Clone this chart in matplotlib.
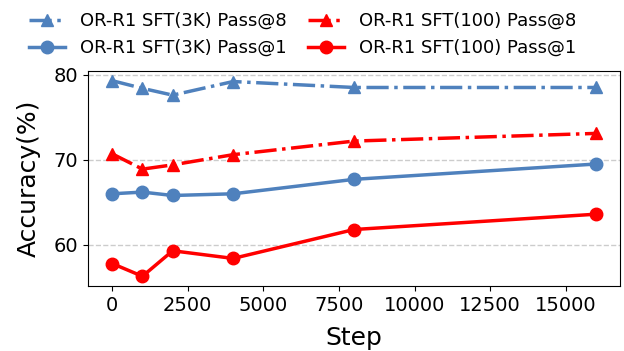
import matplotlib
matplotlib.use("Agg")
import matplotlib.pyplot as plt

# datos
pasos = [0, 1000, 2000, 4000, 8000, 16000]
sft3k_pass8 = [79.3, 78.4, 77.6, 79.2, 78.5, 78.5]
sft3k_pass1 = [66.0, 66.2, 65.8, 66.0, 67.7, 69.5]
sft100_pass8 = [70.7, 68.9, 69.4, 70.6, 72.2, 73.1]
sft100_pass1 = [57.8, 56.3, 59.3, 58.4, 61.8, 63.6]

azul = "#4f81bd"
rojo = "#ff0000"

fig = plt.figure(figsize=(6.24, 3.51), dpi=100)
ax = fig.add_axes([0.141, 0.185, 0.853, 0.613])

estilo = dict(linewidth=2.5, markersize=9)
ax.plot(pasos, sft3k_pass8, color=azul, linestyle="-.", marker="^",
        label="OR-R1 SFT(3K) Pass@8", **estilo)
ax.plot(pasos, sft3k_pass1, color=azul, linestyle="-", marker="o",
        label="OR-R1 SFT(3K) Pass@1", **estilo)
ax.plot(pasos, sft100_pass8, color=rojo, linestyle="-.", marker="^",
        label="OR-R1 SFT(100) Pass@8", **estilo)
ax.plot(pasos, sft100_pass1, color=rojo, linestyle="-", marker="o",
        label="OR-R1 SFT(100) Pass@1", **estilo)

ax.set_yticks([60, 70, 80])
ax.set_xticks([0, 2500, 5000, 7500, 10000, 12500, 15000])
ax.tick_params(axis="both", labelsize=14)
ax.set_xlabel("Step", fontsize=18, labelpad=8)
ax.set_ylabel("Accuracy(%)", fontsize=18, labelpad=9)
ax.grid(axis="y", linestyle="--", color="#cccccc", linewidth=1)

fig.legend(loc="upper center", bbox_to_anchor=(0.485, 1.012), ncol=2,
           frameon=False, fontsize=13, columnspacing=1.2, handletextpad=0.8)

fig.savefig("out.png", dpi=100)
